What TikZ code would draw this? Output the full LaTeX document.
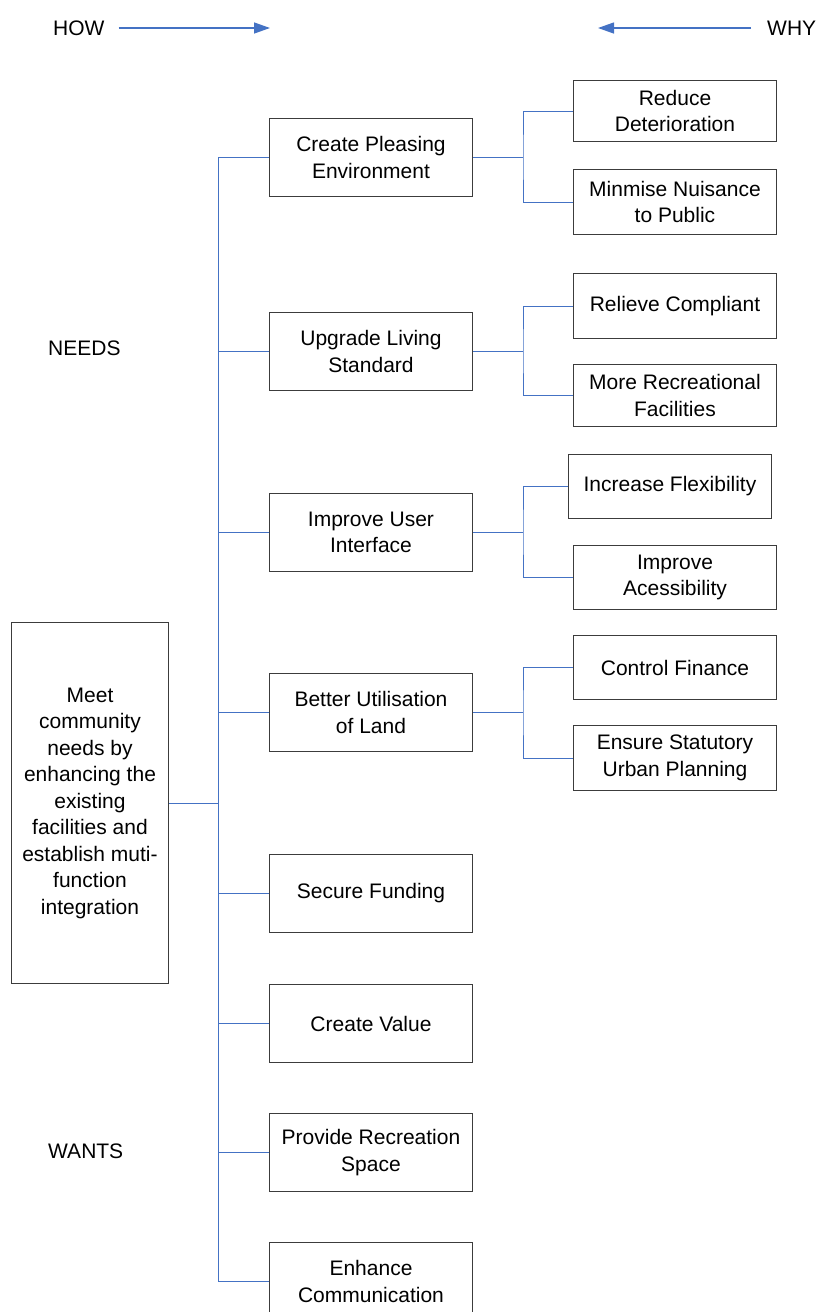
\documentclass[tikz,border=0pt]{standalone}
\usepackage{fontspec}
\setmainfont{Liberation Sans}
\usetikzlibrary{arrows.meta}
\definecolor{linkblue}{RGB}{68,114,196}
\definecolor{boxgray}{RGB}{60,60,60}
\begin{document}
\begin{tikzpicture}[x=1pt,y=-1pt,
  font=\fontsize{21}{26.5}\selectfont,
  boxbase/.style={draw=boxgray, line width=1pt, inner sep=0pt, align=center, anchor=north west, fill=white},
  boxmid/.style={boxbase, minimum width=203pt, minimum height=78pt},
  boxright/.style={boxbase, minimum width=203pt},
  conn/.style={draw=linkblue, line width=1pt},
  headarrow/.style={draw=linkblue, line width=1.3pt, -{Triangle[length=16pt,width=11pt]}},
  plainlabel/.style={inner sep=0pt, anchor=west}]
\useasboundingbox (0,0) rectangle (819,1312);
\clip (0,0) rectangle (819,1312);

% header
\node[plainlabel] (how) at (53,28) {HOW};
\coordinate (howend) at (270,28);
\draw[headarrow] (how.east) ++(14,0) -- (howend);
\node[plainlabel] (why) at (767,28) {WHY};
\coordinate (whyend) at (598,28);
\draw[headarrow] (why.west) ++(-16,0) -- (whyend);

\node[plainlabel] (needs) at (48,348) {NEEDS};
\node[plainlabel] (wants) at (48,1151) {WANTS};

% main box
\node[boxbase, minimum width=157pt, minimum height=361pt] (main) at (11,622)
  {Meet\\community\\needs by\\enhancing the\\existing\\facilities and\\establish muti-\\function\\integration};

% middle boxes
\node[boxmid] (m1) at (269,118)  {Create Pleasing\\Environment};
\node[boxmid] (m2) at (269,312)  {Upgrade Living\\Standard};
\node[boxmid] (m3) at (269,493)  {Improve User\\Interface};
\node[boxmid] (m4) at (269,673)  {Better Utilisation\\of Land};
\node[boxmid] (m5) at (269,854)  {Secure Funding};
\node[boxmid] (m6) at (269,984)  {Create Value};
\node[boxmid] (m7) at (269,1113) {Provide Recreation\\Space};
\node[boxmid] (m8) at (269,1242) {Enhance\\Communication};

% right boxes
\node[boxright, minimum height=61pt] (r1) at (573,80)  {Reduce\\Deterioration};
\node[boxright, minimum height=65pt] (r2) at (573,169) {Minmise Nuisance\\to Public};
\node[boxright, minimum height=65pt] (r3) at (573,273) {Relieve Compliant};
\node[boxright, minimum height=62pt] (r4) at (573,364) {More Recreational\\Facilities};
\node[boxright, minimum height=64pt] (r5) at (568,454) {Increase Flexibility};
\node[boxright, minimum height=64pt] (r6) at (573,545) {Improve\\Acessibility};
\node[boxright, minimum height=64pt] (r7) at (573,635) {Control Finance};
\node[boxright, minimum height=65pt] (r8) at (573,725) {Ensure Statutory\\Urban Planning};

% trunk
\coordinate (trunkx) at (218,0);
\draw[conn] (m1.west -| trunkx) -- (m8.west -| trunkx);
\draw[conn] (main.east) -- (main.east -| trunkx);
\foreach \m in {m1,m2,m3,m4,m5,m6,m7,m8}{
  \draw[conn] (\m.west) -- (\m.west -| trunkx);
}

% right branches
\coordinate (branchx) at (523,0);
\foreach \m/\a/\b in {m1/r1/r2, m2/r3/r4, m3/r5/r6, m4/r7/r8}{
  \draw[conn] (\m.east) -- (\m.east -| branchx);
  \draw[conn] (\a.west) -| (\m.east -| branchx) |- (\b.west);
}
\end{tikzpicture}
\end{document}
